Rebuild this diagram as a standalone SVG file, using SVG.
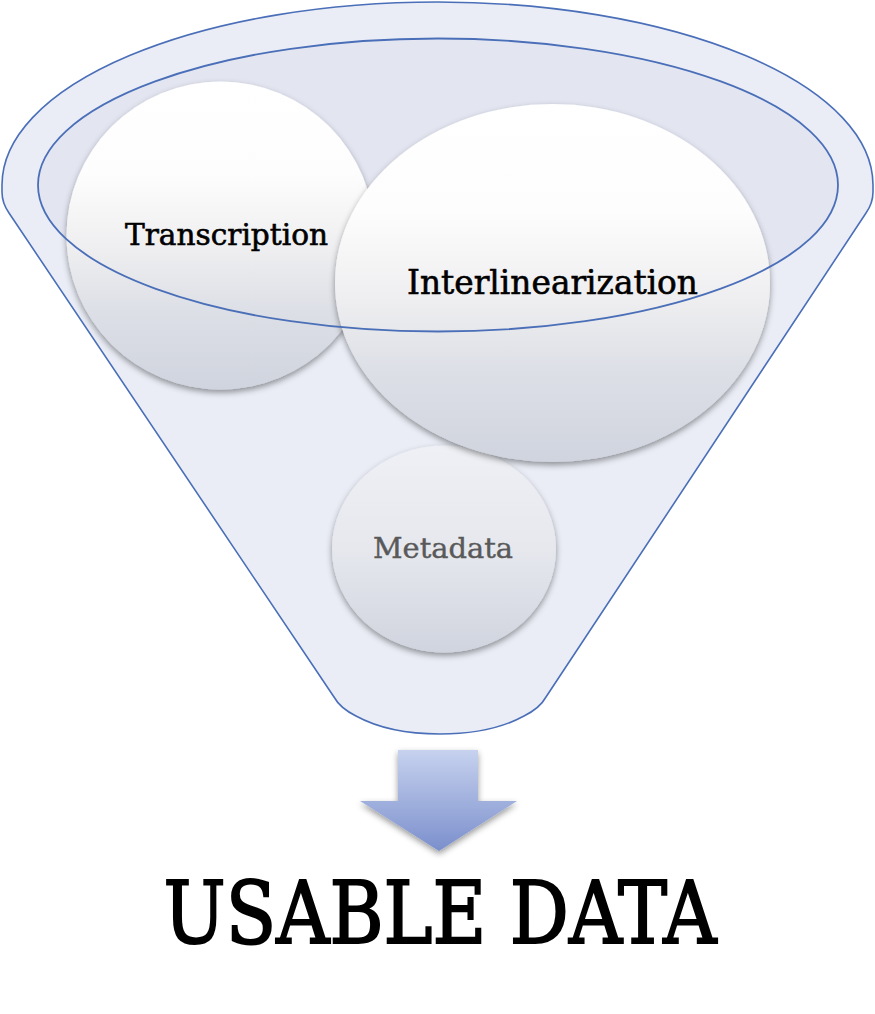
<svg xmlns="http://www.w3.org/2000/svg" width="875" height="1014" viewBox="0 0 875 1014">
  <defs>
    <linearGradient id="gBall" x1="0" y1="0" x2="0" y2="1">
      <stop offset="0" stop-color="#FFFFFF"/>
      <stop offset="0.3" stop-color="#FDFDFD"/>
      <stop offset="0.55" stop-color="#EEEEF0"/>
      <stop offset="0.75" stop-color="#DCDFE6"/>
      <stop offset="1" stop-color="#D0D4DE"/>
    </linearGradient>
    <linearGradient id="gMeta" x1="0" y1="0" x2="0" y2="1">
      <stop offset="0" stop-color="#EFF0F5"/>
      <stop offset="0.5" stop-color="#E6E8EE"/>
      <stop offset="1" stop-color="#D0D4DE"/>
    </linearGradient>
    <linearGradient id="gArrow" x1="0" y1="0" x2="0" y2="1">
      <stop offset="0" stop-color="#C7D2EF"/>
      <stop offset="1" stop-color="#7B8FCC"/>
    </linearGradient>
    <filter id="shadow" x="-20%" y="-20%" width="140%" height="140%">
      <feDropShadow dx="0" dy="3" stdDeviation="3" flood-color="#000" flood-opacity="0.4"/>
    </filter>
    <style>
      .funnel { fill: #EAEDF6; stroke: #4A6FB8; stroke-width: 1.6; }
      .rim { fill: none; stroke: #4A6FB8; stroke-width: 1.8; }
      .ball { fill: url(#gBall); filter: url(#shadow); }
      .lbl { font-family: "DejaVu Serif", "Liberation Serif", serif; text-anchor: middle; fill: #000; stroke: #000; stroke-width: 0.6; }
    </style>
  </defs>

  <g id="funnel">
    <path class="funnel" d="M 2,185 A 435.5 183 0 0 1 873,185 L 873,192 Q 873,203 866,213 L 546,697 Q 540,708 524,716 C 480,740 400,740 356,716 Q 340,708 334,697 L 9,213 Q 2,203 2,192 Z"/>
    <ellipse cx="438" cy="185" rx="400" ry="146.5" fill="#E3E6F1"/>
  </g>

  <g id="node-transcription">
    <circle class="ball" cx="220.5" cy="235.5" r="154"/>
    <text class="lbl" x="226.5" y="245" font-size="29" textLength="203" lengthAdjust="spacingAndGlyphs">Transcription</text>
  </g>

  <g id="node-metadata">
    <ellipse cx="444" cy="549" rx="112" ry="103.5" fill="url(#gMeta)" filter="url(#shadow)"/>
    <text class="lbl" x="443" y="558" font-size="27" style="fill:#595959;stroke:#595959;stroke-width:0.4" textLength="140" lengthAdjust="spacingAndGlyphs">Metadata</text>
  </g>

  <g id="node-interlinearization">
    <ellipse class="ball" cx="552.5" cy="283" rx="217.5" ry="179"/>
    <text class="lbl" x="552.5" y="294" font-size="33" textLength="291" lengthAdjust="spacingAndGlyphs">Interlinearization</text>
  </g>

  <g id="funnel-rim">
    <ellipse class="rim" cx="438" cy="185" rx="400" ry="146.5"/>
  </g>

  <g id="connectors">
    <path d="M 398,750 L 478,750 L 478,801 L 517,801 L 439,851 L 360,801 L 398,801 Z" fill="url(#gArrow)" filter="url(#shadow)"/>
  </g>

  <g id="node-usable-data">
    <text class="lbl" x="440" y="943" font-size="86" style="stroke-width:2" textLength="553" lengthAdjust="spacingAndGlyphs">USABLE DATA</text>
  </g>
</svg>
